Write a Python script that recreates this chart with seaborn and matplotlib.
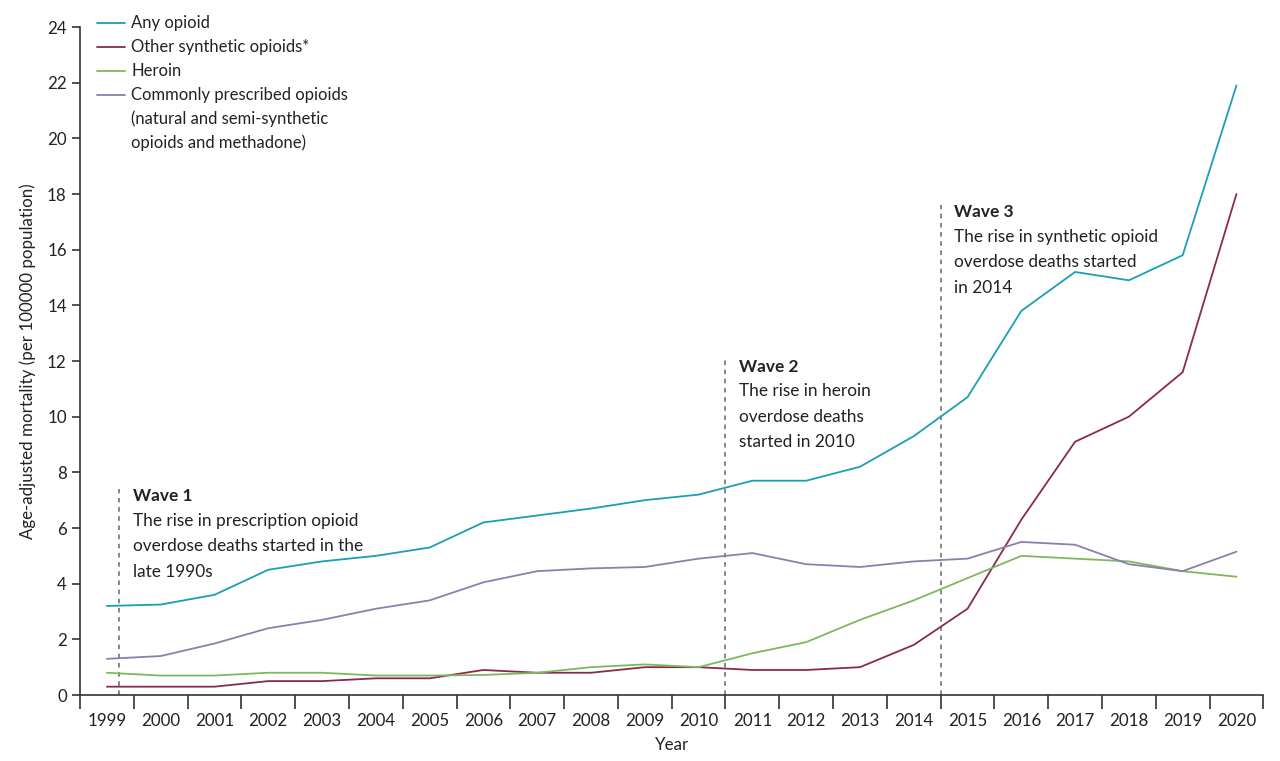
import pandas as pd
import seaborn as sns
import matplotlib.pyplot as plt
from matplotlib.ticker import MultipleLocator

# values (age-adjusted deaths per 100000)
years = list(range(1999, 2021))
any_opioid = [3.2, 3.25, 3.6, 4.5, 4.8, 5.0, 5.3, 6.2, 6.45, 6.7, 7.0, 7.2,
              7.7, 7.7, 8.2, 9.3, 10.7, 13.8, 15.2, 14.9, 15.8, 21.9]
other_synthetic = [0.3, 0.3, 0.3, 0.5, 0.5, 0.6, 0.6, 0.9, 0.8, 0.8, 1.0, 1.0,
                   0.9, 0.9, 1.0, 1.8, 3.1, 6.3, 9.1, 10.0, 11.6, 18.0]
heroin = [0.8, 0.7, 0.7, 0.8, 0.8, 0.7, 0.7, 0.72, 0.8, 1.0, 1.1, 1.0,
          1.5, 1.9, 2.7, 3.4, 4.2, 5.0, 4.9, 4.8, 4.45, 4.25]
prescribed = [1.3, 1.4, 1.85, 2.4, 2.7, 3.1, 3.4, 4.05, 4.45, 4.55, 4.6, 4.9,
              5.1, 4.7, 4.6, 4.8, 4.9, 5.5, 5.4, 4.7, 4.45, 5.15]

series_names = ["Any opioid", "Other synthetic opioids*", "Heroin",
                "Commonly prescribed opioids\n(natural and semi-synthetic\nopioids and methadone)"]
series_colors = ["#1a9fb3", "#8b2a4c", "#7db85e", "#8e7dad"]

# wave markers: x position, top of dashed line, heading, text
wave_x = [1999.23, 2010.5, 2014.5]
wave_top = [7.4, 12.05, 17.6]
wave_head = ["Wave 1", "Wave 2", "Wave 3"]
wave_text = ["The rise in prescription opioid\noverdose deaths started in the\nlate 1990s",
             "The rise in heroin\noverdose deaths\nstarted in 2010",
             "The rise in synthetic opioid\noverdose deaths started\nin 2014"]

df = pd.DataFrame({
    "Year": years * 4,
    "value": any_opioid + other_synthetic + heroin + prescribed,
    "series": sum([[n] * len(years) for n in series_names], []),
})

sns.set_style("ticks")
plt.rcParams["font.family"] = ["Lato", "DejaVu Sans"]
fs_note = 12.4
fs = 12.2
ink = "#222222"

fig = plt.figure(figsize=(12.8, 7.61), dpi=100)
ax = fig.add_axes([0.0625, 0.0867, 0.9245, 0.8778])

sns.lineplot(data=df, x="Year", y="value", hue="series", hue_order=series_names,
             palette=series_colors, linewidth=1.3, legend=False, ax=ax)

for x, top, head, txt in zip(wave_x, wave_top, wave_head, wave_text):
    ax.plot([x, x], [0, top], color="#666666", linestyle=(0, (3, 3)), linewidth=1.1, zorder=1)
    ax.text(x + 0.25, top - 0.25, head, fontsize=fs_note, fontweight="bold", color=ink,
            va="center", ha="left")
    ax.text(x + 0.25, top - 0.85, txt, fontsize=fs_note, color=ink, va="top",
            ha="left", linespacing=1.73)

ax.set_xlim(1998.5, 2020.5)
ax.set_ylim(0, 24)
ax.set_yticks(range(0, 25, 2))
ax.set_xticks(years)
ax.xaxis.set_minor_locator(MultipleLocator(1, offset=0.5))
ax.tick_params(axis="x", which="major", length=0, pad=13, labelsize=fs, labelcolor=ink)
ax.tick_params(axis="x", which="minor", length=10, width=1.2, color="#333333")
ax.tick_params(axis="y", length=6, width=1.2, color="#333333", labelsize=fs, labelcolor=ink)
for s in ["top", "right"]:
    ax.spines[s].set_visible(False)
for s in ["left", "bottom"]:
    ax.spines[s].set_color("#333333")
    ax.spines[s].set_linewidth(1.2)

ax.set_xlabel("Year", fontsize=fs, color=ink, labelpad=6)
ax.set_ylabel("Age-adjusted mortality (per 100000 population)", fontsize=fs, color=ink, labelpad=8)

# legend drawn by hand so that the swatch sits on the first line of each label
row_h = 24 / 668
row_y = 1.006
for name, color in zip(series_names, series_colors):
    ax.plot([0.0144, 0.0381], [row_y, row_y], color=color, linewidth=1.3,
            transform=ax.transAxes, clip_on=False)
    for line in name.split("\n"):
        ax.text(0.0431, row_y, line, fontsize=12, color=ink, va="center", ha="left",
                transform=ax.transAxes)
        row_y -= row_h

fig.savefig("out.png", dpi=100)
